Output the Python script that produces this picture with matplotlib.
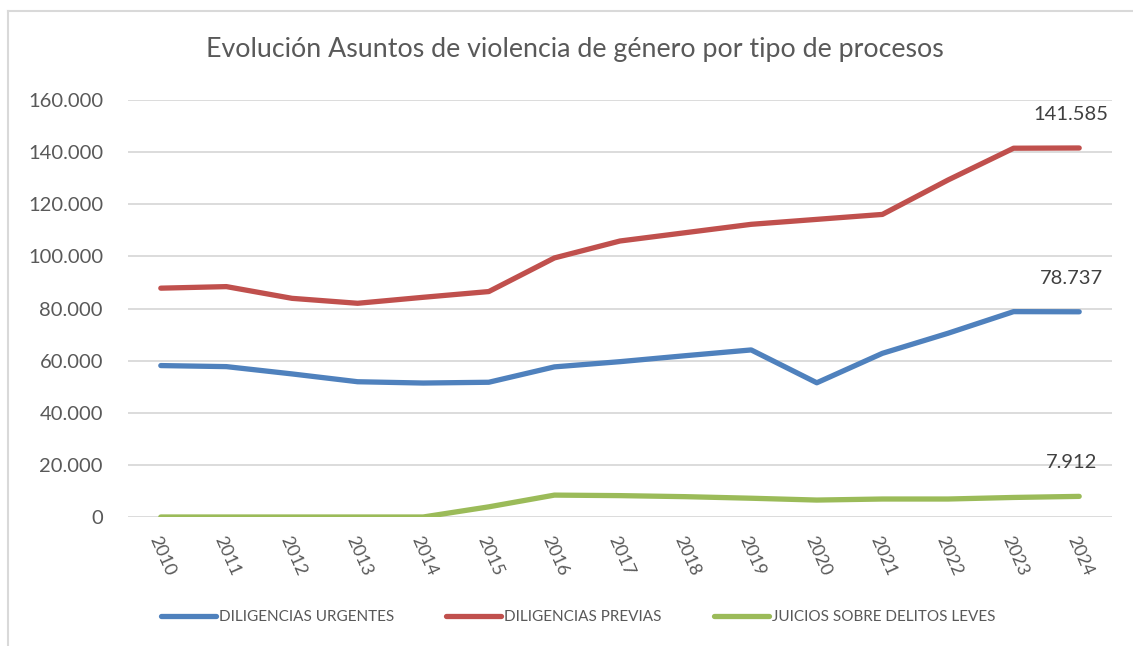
import matplotlib
matplotlib.use("Agg")
import matplotlib.pyplot as plt
from matplotlib.lines import Line2D
from matplotlib.ticker import FuncFormatter

plt.rcParams['font.family'] = ['Lato', 'DejaVu Sans']

years = ['2010', '2011', '2012', '2013', '2014', '2015', '2016', '2017',
         '2018', '2019', '2020', '2021', '2022', '2023', '2024']
urgentes = [58100, 57700, 54900, 51900, 51400, 51700, 57600, 59600,
            61900, 64100, 51500, 62800, 70500, 78800, 78737]
previas = [87800, 88400, 83900, 82000, 84300, 86500, 99400, 105900,
           109100, 112300, 114200, 116100, 129300, 141500, 141585]
leves = [0, 0, 0, 0, 0, 3900, 8400, 8200, 7800, 7200, 6500, 6900,
         6900, 7500, 7912]

series = [
    ('DILIGENCIAS URGENTES', urgentes, '#4F81BD'),
    ('DILIGENCIAS PREVIAS', previas, '#C0504D'),
    ('JUICIOS SOBRE DELITOS LEVES', leves, '#9BBB59'),
]

W, H = 1133, 646
fig = plt.figure(figsize=(W / 100, H / 100), dpi=100)
ax = fig.add_axes([128 / W, 1 - 517 / H, (1112 - 128) / W, (517 - 100) / H])

x = range(len(years))
for name, vals, col in series:
    ax.plot(x, vals, color=col, lw=3.8, solid_capstyle='round',
            solid_joinstyle='round', label=name)
    ax.annotate(f"{vals[-1]:,}".replace(',', '.'), (x[-1], vals[-1]),
                xytext=(-8, 25), textcoords='offset pixels', ha='center',
                va='bottom', fontsize=14.5, color='#404040')

ax.set_xlim(-0.5, len(years) - 0.5)
ax.set_ylim(0, 160000)
ax.set_yticks(range(0, 160001, 20000))
ax.yaxis.set_major_formatter(FuncFormatter(lambda v, p: f"{int(v):,}".replace(',', '.')))
ax.set_xticks(list(x))
ax.set_xticklabels(years, rotation=-66, ha='left', va='top', rotation_mode='anchor')
ax.tick_params(axis='y', length=0, pad=18, labelsize=14.5, labelcolor='#595959')
ax.tick_params(axis='x', length=0, pad=12, labelsize=13, labelcolor='#595959')
for s in ax.spines.values():
    s.set_visible(False)
ax.grid(axis='y', color='#D9D9D9', lw=1.3)
ax.set_axisbelow(True)

fig.text(575 / W, 1 - 50 / H, 'Evolución Asuntos de violencia de género por tipo de procesos',
         ha='center', va='center', fontsize=19.3, color='#595959')

handles = [Line2D([], [], color=c, lw=3.8, solid_capstyle='round') for _, _, c in series]
fig.legend(handles, [n for n, _, _ in series], loc='center', ncol=3,
           bbox_to_anchor=(578 / W, 1 - 617 / H), frameon=False, fontsize=11,
           labelcolor='#595959', handlelength=3.6, handletextpad=0.2, columnspacing=3.4)

# chart area border (left and top visible)
fig.add_artist(Line2D([8 / W, 8 / W], [0, 1 - 11 / H], color='#D9D9D9', lw=1.5,
                      transform=fig.transFigure))
fig.add_artist(Line2D([8 / W, 1], [1 - 11 / H, 1 - 11 / H], color='#D9D9D9', lw=1.5,
                      transform=fig.transFigure))

fig.savefig('out.png', dpi=100)
